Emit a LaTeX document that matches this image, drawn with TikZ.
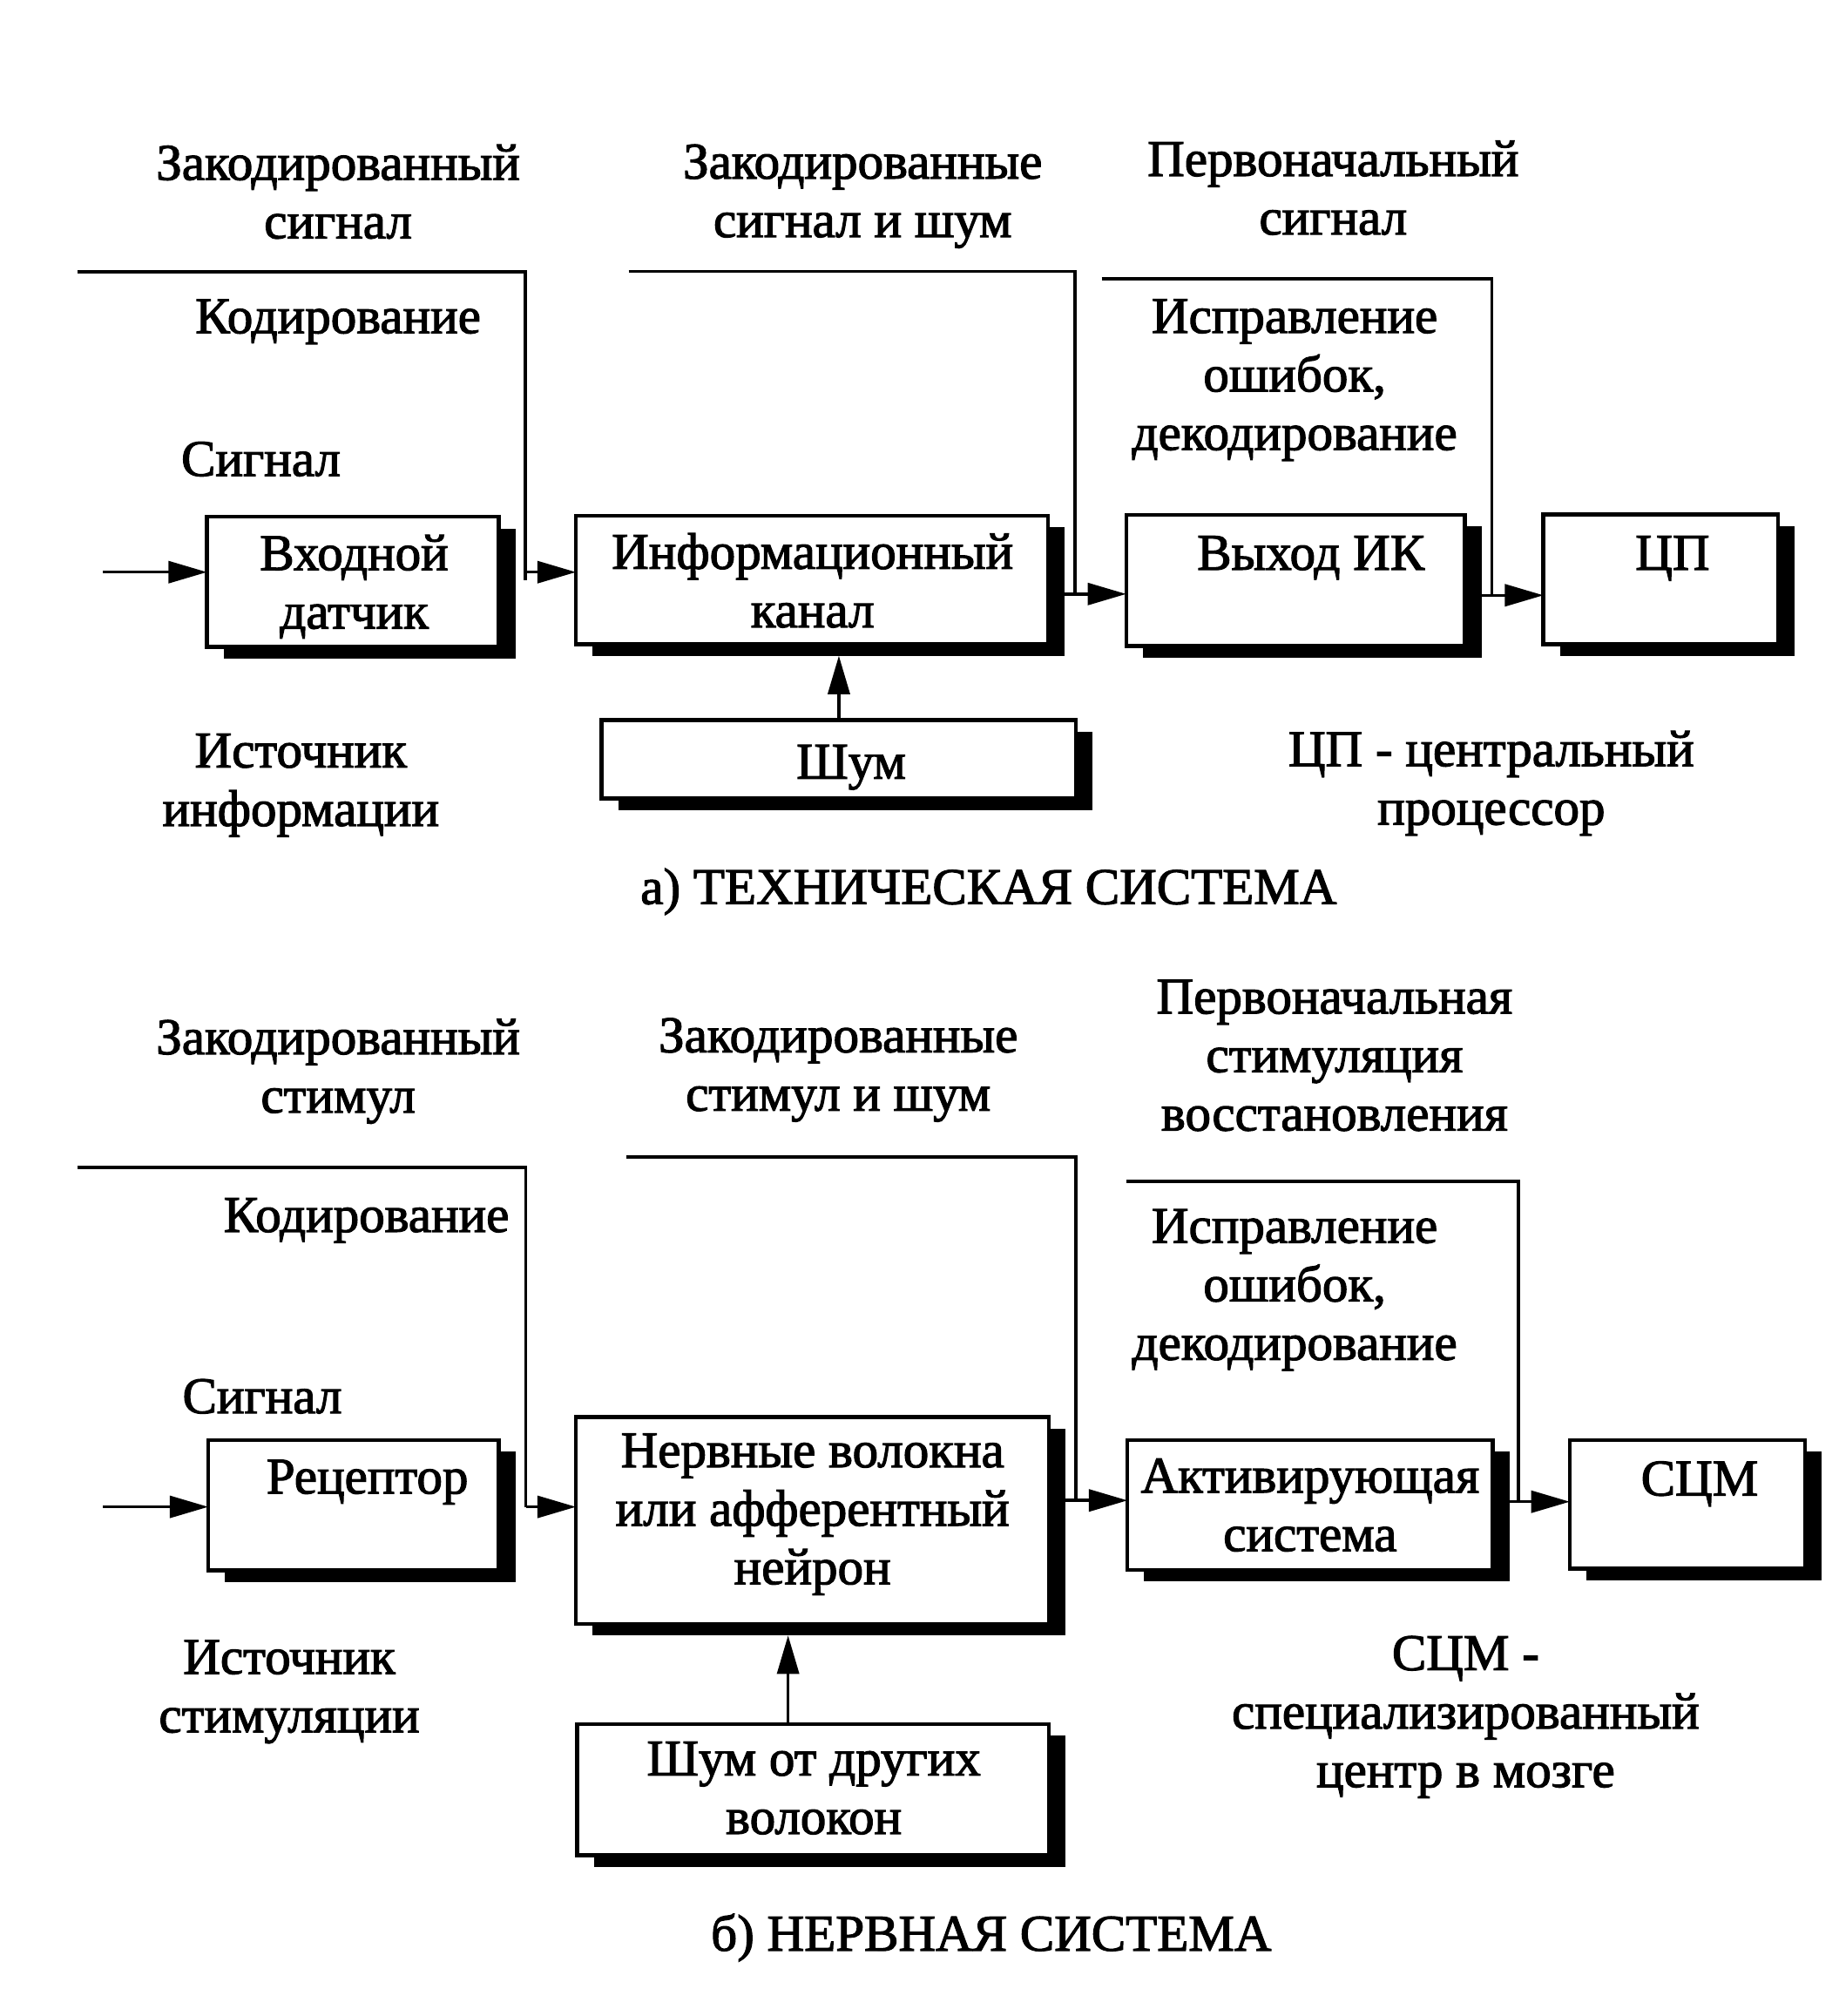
\documentclass[tikz,border=0pt]{standalone}
\usepackage{fontspec}
\newfontfamily\tfont{Liberation Serif}[FakeBold=2]
\usetikzlibrary{arrows.meta,shadows}
\newcommand\fs{\tfont\fontsize{20pt}{22.75pt}\selectfont}
\newcommand\s{\strut}
\begin{document}
\begin{tikzpicture}[x=0.5pt,y=-0.5pt,
  box/.style={draw, line width=1.5pt, fill=white, inner sep=0pt, outer sep=0pt,
    anchor=north west,
    drop shadow={shadow xshift=6.5pt, shadow yshift=-4.5pt, fill=black, opacity=1}},
  txt/.style={font=\fs, align=center, inner sep=0pt, yshift=-1.5pt},
  ln/.style={line width=1.2pt},
  arr/.style={line width=1.2pt, -{Triangle[length=15pt,width=8.5pt]}}]
\useasboundingbox[fill=white] (0,0) rectangle (1430,1568);

% ---------- a) technical system ----------
\node[box, minimum width=113.5pt, minimum height=50.5pt] (b1) at (161,402) {};
\node[box, minimum width=183.5pt, minimum height=50pt] (b2) at (448,401) {};
\node[box, minimum width=131.75pt, minimum height=51pt] (b3) at (876,400.5) {};
\node[box, minimum width=91.25pt, minimum height=50.5pt] (b4) at (1200.5,400) {};
\node[box, minimum width=184.5pt, minimum height=30.5pt] (n1) at (468,560) {};

\node[txt] (b1t) at (275.5,454) {\s Входной\\\s датчик};
\node[txt] (b2t) at (632,453) {\s Информационный\\\s канал};
\node[txt] (b3t) at (1019.6,431) {\s Выход ИК};
\node[txt] (b4t) at (1301,431) {\s ЦП};
\node[txt] (n1t) at (662,593.5) {\s Шум};

\node[txt] (t1) at (263,150.5) {\s Закодированный\\\s сигнал};
\node[txt] (t2) at (671,149.5) {\s Закодированные\\\s сигнал и шум};
\node[txt] (t3) at (1037,147.5) {\s Первоначальный\\\s сигнал};
\node[txt] (t4) at (263,247) {\s Кодирование};
\node[txt] (t5) at (203,358) {\s Сигнал};
\node[txt] (t6) at (1007,292.3) {\s Исправление\\\s ошибок,\\\s декодирование};
\node[txt] (t7) at (234,607.5) {\s Источник\\\s информации};
\node[txt] (t8) at (1160,606.5) {\s ЦП - центральный\\\s процессор};
\node[txt] (t9) at (769,691) {\s а) ТЕХНИЧЕСКАЯ СИСТЕМА};

\coordinate (in1) at (80,445);
\draw[arr] (in1) -- (in1 -| b1.west);
\coordinate (s1) at (60,211.5);
\coordinate (k1) at (408.5,445);
\coordinate (k1e) at (408.5,451);
\draw[ln] (s1) -| (k1e);
\draw[arr] (k1) -- (k1 -| b2.west);
\coordinate (s2) at (489,211);
\coordinate (k2) at (836,462);
\draw[ln] (s2) -| (k2);
\draw[arr] (b2.east |- k2) -- (k2 -| b3.west);
\coordinate (s3) at (857,217);
\coordinate (k3) at (1160.5,463);
\draw[ln] (s3) -| (k3);
\draw[arr] (b3.east |- k3) -- (k3 -| b4.west);
\coordinate (b2sh) at ([yshift=-4.5pt]b2.south);
\draw[arr] (n1.north) -- (n1.north |- b2sh);

% ---------- b) nervous system ----------
\node[box, minimum width=113pt, minimum height=50.75pt] (r1) at (162,1120) {};
\node[box, minimum width=184pt, minimum height=80.5pt] (r2) at (448,1102) {};
\node[box, minimum width=142pt, minimum height=50.5pt] (r3) at (877,1120) {};
\node[box, minimum width=91.5pt, minimum height=50pt] (r4) at (1221,1120) {};
\node[box, minimum width=183.5pt, minimum height=51pt] (n2) at (449,1341) {};

\node[txt] (r1t) at (285.7,1149.5) {\s Рецептор};
\node[txt] (r2t) at (632,1174.5) {\s Нервные волокна\\\s или афферентный\\\s нейрон};
\node[txt] (r3t) at (1019,1171.5) {\s Активирующая\\\s система};
\node[txt] (r4t) at (1322,1151) {\s СЦМ};
\node[txt] (n2t) at (633,1391.5) {\s Шум от других\\\s волокон};

\node[txt] (u1) at (263,830.5) {\s Закодированный\\\s стимул};
\node[txt] (u2) at (652,829) {\s Закодированные\\\s стимул и шум};
\node[txt] (u3) at (1038,821.7) {\s Первоначальная\\\s стимуляция\\\s восстановления};
\node[txt] (u4) at (285,946) {\s Кодирование};
\node[txt] (u5) at (204,1087) {\s Сигнал};
\node[txt] (u6) at (1007,1000) {\s Исправление\\\s ошибок,\\\s декодирование};
\node[txt] (u7) at (225,1312.5) {\s Источник\\\s стимуляции};
\node[txt] (u8) at (1140,1332.3) {\s СЦМ -\\\s специализированный\\\s центр в мозге};
\node[txt] (u9) at (771,1505) {\s б) НЕРВНАЯ СИСТЕМА};

\coordinate (in2) at (80,1172);
\draw[arr] (in2) -- (in2 -| r1.west);
\coordinate (s4) at (60,908);
\coordinate (k4) at (409,1172);
\draw[ln] (s4) -| (k4);
\draw[arr] (k4) -- (k4 -| r2.west);
\coordinate (s5) at (487,900);
\coordinate (k5) at (837,1167);
\draw[ln] (s5) -| (k5);
\draw[arr] (r2.east |- k5) -- (k5 -| r3.west);
\coordinate (s6) at (876,919);
\coordinate (k6) at (1181,1168);
\draw[ln] (s6) -| (k6);
\draw[arr] (r3.east |- k6) -- (k6 -| r4.west);
\coordinate (r2sh) at ([yshift=-4.5pt]r2.south);
\coordinate (a2) at (613,1341);
\draw[arr] (a2) -- (a2 |- r2sh);
\end{tikzpicture}
\end{document}
